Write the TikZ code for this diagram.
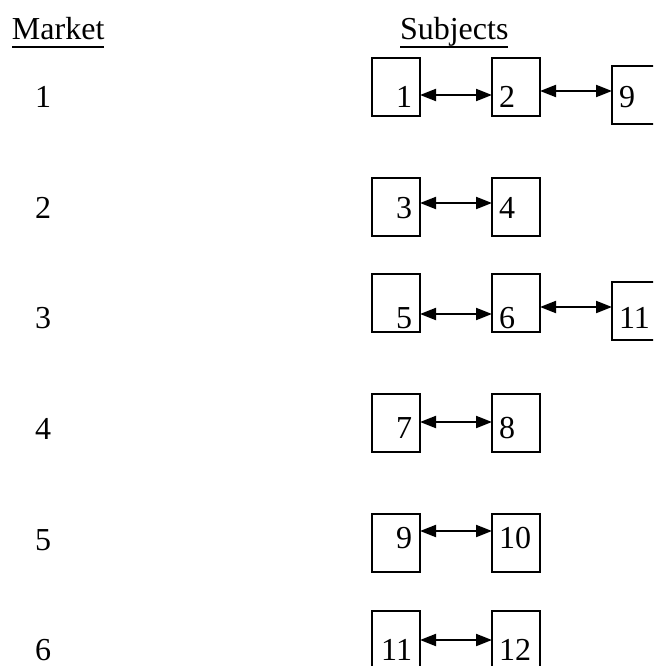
\documentclass[tikz,border=0pt]{standalone}
\usepackage{fontspec}
\setmainfont{Liberation Serif}
\usetikzlibrary{arrows.meta}

\tikzset{
  txt/.style={inner sep=0pt, outer sep=0pt, font=\fontsize{32}{36}\selectfont},
  subj/.style={draw, line width=1.4pt, minimum width=48pt, minimum height=58pt,
               inner sep=0pt, outer sep=0pt, anchor=north west},
  link/.style={line width=2pt,
               {Triangle[length=16pt,width=12pt]}-{Triangle[length=16pt,width=12pt]}},
  uline/.style={line width=1.2pt}
}

\begin{document}
\begin{tikzpicture}[x=1pt,y=-1pt]
  \clip (0,0) rectangle (653,666);
  \useasboundingbox (0,0) rectangle (653,666);

  % column headings
  \node[txt, anchor=base west] (hmarket) at (12,40) {Market};
  \node[txt, anchor=base west] (hsubj) at (400,40) {Subjects};
  \draw[uline] ([yshift=-7pt]hmarket.base west) -- ([yshift=-7pt]hmarket.base east);
  \draw[uline] ([yshift=-7pt]hsubj.base west) -- ([yshift=-7pt]hsubj.base east);

  % market numbers
  \node[txt, anchor=base] (m1) at (43,107) {1};
  \node[txt, anchor=base] (m2) at (43,218) {2};
  \node[txt, anchor=base] (m3) at (43,328) {3};
  \node[txt, anchor=base] (m4) at (43,439) {4};
  \node[txt, anchor=base] (m5) at (43,550) {5};
  \node[txt, anchor=base] (m6) at (43,660) {6};

  % subject boxes
  \node[subj] (s1)  at (372,58)  {};
  \node[subj] (s2)  at (492,58)  {};
  \node[subj] (s9a) at (612,66)  {};
  \node[subj] (s3)  at (372,178) {};
  \node[subj] (s4)  at (492,178) {};
  \node[subj] (s5)  at (372,274) {};
  \node[subj] (s6)  at (492,274) {};
  \node[subj] (s11a) at (612,282) {};
  \node[subj] (s7)  at (372,394) {};
  \node[subj] (s8)  at (492,394) {};
  \node[subj] (s9)  at (372,514) {};
  \node[subj] (s10) at (492,514) {};
  \node[subj] (s11) at (372,611) {};
  \node[subj] (s12) at (492,611) {};

  % subject numbers
  \node[txt, anchor=base east] (n1)  at (412,107) {1};
  \node[txt, anchor=base west] (n2)  at (499,107) {2};
  \node[txt, anchor=base west] (n9a) at (619,107) {9};
  \node[txt, anchor=base east] (n3)  at (412,218) {3};
  \node[txt, anchor=base west] (n4)  at (499,218) {4};
  \node[txt, anchor=base east] (n5)  at (412,328) {5};
  \node[txt, anchor=base west] (n6)  at (499,328) {6};
  \node[txt, anchor=base west] (n11a) at (619,328) {11};
  \node[txt, anchor=base east] (n7)  at (412,438) {7};
  \node[txt, anchor=base west] (n8)  at (499,438) {8};
  \node[txt, anchor=base east] (n9)  at (412,548) {9};
  \node[txt, anchor=base west] (n10) at (499,548) {10};
  \node[txt, anchor=base east] (n11) at (412,660) {11};
  \node[txt, anchor=base west] (n12) at (499,660) {12};

  % pairings
  \draw[link] ([yshift=-8pt]s1.east) -- ([yshift=-8pt]s2.west);
  \draw[link] ([yshift=-4pt]s2.east) -- ([yshift=4pt]s9a.west);
  \draw[link] ([yshift=4pt]s3.east) -- ([yshift=4pt]s4.west);
  \draw[link] ([yshift=-11pt]s5.east) -- ([yshift=-11pt]s6.west);
  \draw[link] ([yshift=-4pt]s6.east) -- ([yshift=4pt]s11a.west);
  \draw[link] ([yshift=1pt]s7.east) -- ([yshift=1pt]s8.west);
  \draw[link] ([yshift=12pt]s9.east) -- ([yshift=12pt]s10.west);
  \draw[link] (s11.east) -- (s12.west);
\end{tikzpicture}
\end{document}
